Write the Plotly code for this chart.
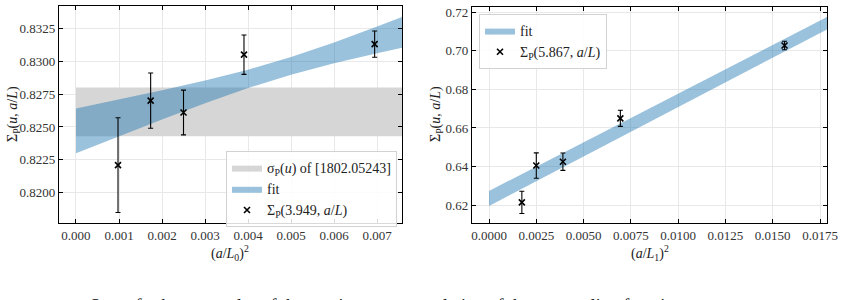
import plotly.graph_objects as go

# ---------------- data: left panel ----------------
x_left = [0.000977, 0.001736, 0.0025, 0.003906, 0.006944]
y_left = [0.8221, 0.8270, 0.8261, 0.8305, 0.8313]
err_left = [0.0036, 0.0021, 0.0017, 0.0015, 0.0010]

band_x_left = [0.0, 0.001, 0.002, 0.003, 0.004, 0.005, 0.006, 0.007, 0.0077]
band_lo_left = [0.82300, 0.82429, 0.82557, 0.82680, 0.82796, 0.82898, 0.82985, 0.83061, 0.83110]
band_hi_left = [0.82640, 0.82709, 0.82780, 0.82854, 0.82936, 0.83032, 0.83143, 0.83265, 0.83350]

ref_x = [0.0, 0.0077]
ref_lo = 0.8243
ref_hi = 0.8280

# ---------------- data: right panel ----------------
x_right = [0.001736, 0.0025, 0.003906, 0.006944, 0.015625]
y_right = [0.6214, 0.6405, 0.6425, 0.6650, 0.7028]
err_right = [0.0058, 0.0066, 0.0045, 0.0042, 0.0022]

band_x_right = [0.0, 0.005, 0.010, 0.015, 0.0180]
band_lo_right = [0.61955, 0.64520, 0.67085, 0.69650, 0.71180]
band_hi_right = [0.62735, 0.65260, 0.67785, 0.70310, 0.71820]

W, H = 845, 300
FONT = "'Liberation Serif', 'DejaVu Serif', serif"
BLUE = "rgba(31,119,180,0.45)"
GREY = "rgb(214,214,214)"

fig = go.Figure()

# left panel
fig.add_trace(go.Scatter(
    x=ref_x + ref_x[::-1], y=[ref_hi, ref_hi, ref_lo, ref_lo],
    fill="toself", fillcolor=GREY, line=dict(width=0), mode="lines",
    name="σ<sub>P</sub>(<i>u</i>) of [1802.05243]", xaxis="x", yaxis="y",
    legend="legend", hoverinfo="skip"))
fig.add_trace(go.Scatter(
    x=band_x_left + band_x_left[::-1], y=band_hi_left + band_lo_left[::-1],
    fill="toself", fillcolor=BLUE, line=dict(width=0), mode="lines",
    name="fit", xaxis="x", yaxis="y", legend="legend"))
fig.add_trace(go.Scatter(
    x=x_left, y=y_left, mode="markers",
    marker=dict(symbol="x-thin", size=6, line=dict(width=1.6, color="black"), color="black"),
    error_y=dict(type="data", array=err_left, color="black", thickness=1.1, width=2.5),
    name="Σ<sub>P</sub>(3.949, <i>a</i>/<i>L</i>)", xaxis="x", yaxis="y", legend="legend"))

# right panel
fig.add_trace(go.Scatter(
    x=band_x_right + band_x_right[::-1], y=band_hi_right + band_lo_right[::-1],
    fill="toself", fillcolor=BLUE, line=dict(width=0), mode="lines",
    name="fit", xaxis="x2", yaxis="y2", legend="legend2"))
fig.add_trace(go.Scatter(
    x=x_right, y=y_right, mode="markers",
    marker=dict(symbol="x-thin", size=6, line=dict(width=1.6, color="black"), color="black"),
    error_y=dict(type="data", array=err_right, color="black", thickness=1.1, width=2.5),
    name="Σ<sub>P</sub>(5.867, <i>a</i>/<i>L</i>)", xaxis="x2", yaxis="y2", legend="legend2"))

axis_common = dict(
    showline=True, linecolor="black", linewidth=1.2, mirror="ticks",
    ticks="inside", ticklen=4, tickwidth=1, tickcolor="black",
    showgrid=True, gridcolor="rgb(232,232,232)", gridwidth=1,
    zeroline=False, automargin=False,
    tickfont=dict(family=FONT, size=13, color="#333"),
)

def px_x(p):
    return p / W

def px_y(p):
    return 1 - p / H

legend_common = dict(
    xanchor="left", yanchor="top",
    bgcolor="rgba(255,255,255,0.85)", bordercolor="rgb(210,210,210)",
    borderwidth=1, font=dict(family=FONT, size=14, color="#222"),
    tracegroupgap=0, itemwidth=30)

fig.update_layout(
    width=W, height=H,
    margin=dict(l=0, r=0, t=0, b=0),
    paper_bgcolor="white", plot_bgcolor="white",
    font=dict(family=FONT, size=13, color="#222"),
    xaxis=dict(domain=[px_x(59), px_x(402)], range=[-0.000395, 0.00758],
               tick0=0, dtick=0.001, tickformat=".3f", anchor="y", **axis_common),
    yaxis=dict(domain=[px_y(223), px_y(6)], range=[0.8177, 0.8342],
               tick0=0.82, dtick=0.0025, tickformat=".4f", anchor="x", **axis_common),
    xaxis2=dict(domain=[px_x(472), px_x(827)], range=[-0.0009, 0.01787],
                tick0=0, dtick=0.0025, tickformat=".4f", anchor="y2", **axis_common),
    yaxis2=dict(domain=[px_y(223), px_y(6.7)], range=[0.6107, 0.7229],
                tick0=0.6, dtick=0.02, tickformat=".2f", anchor="x2", **axis_common),
    legend=dict(x=px_x(226), y=px_y(151), **legend_common),
    legend2=dict(x=px_x(479), y=px_y(14), **legend_common),
    showlegend=True,
)

annotations = [
    dict(text="Σ<sub>P</sub>(<i>u</i>, <i>a</i>/<i>L</i>)", x=px_x(13), y=px_y(114),
         textangle=-90, showarrow=False, xanchor="center", yanchor="middle",
         font=dict(family=FONT, size=14, color="#222")),
    dict(text="Σ<sub>P</sub>(<i>u</i>, <i>a</i>/<i>L</i>)", x=px_x(436), y=px_y(114),
         textangle=-90, showarrow=False, xanchor="center", yanchor="middle",
         font=dict(family=FONT, size=14, color="#222")),
    dict(text="(<i>a</i>/<i>L</i><sub>0</sub>)<sup>2</sup>", x=px_x(230.5), y=px_y(253),
         showarrow=False, xanchor="center", yanchor="middle",
         font=dict(family=FONT, size=14, color="#222")),
    dict(text="(<i>a</i>/<i>L</i><sub>1</sub>)<sup>2</sup>", x=px_x(650), y=px_y(253),
         showarrow=False, xanchor="center", yanchor="middle",
         font=dict(family=FONT, size=14, color="#222")),
    dict(text="Some further examples of the continuum extrapolation of the step scaling function",
         x=px_x(88), y=px_y(294), showarrow=False, xanchor="left", yanchor="top",
         font=dict(family=FONT, size=18, color="#111")),
]
for a in annotations:
    a["xref"] = "paper"
    a["yref"] = "paper"
fig.update_layout(annotations=annotations)

fig.write_html("out.html")
